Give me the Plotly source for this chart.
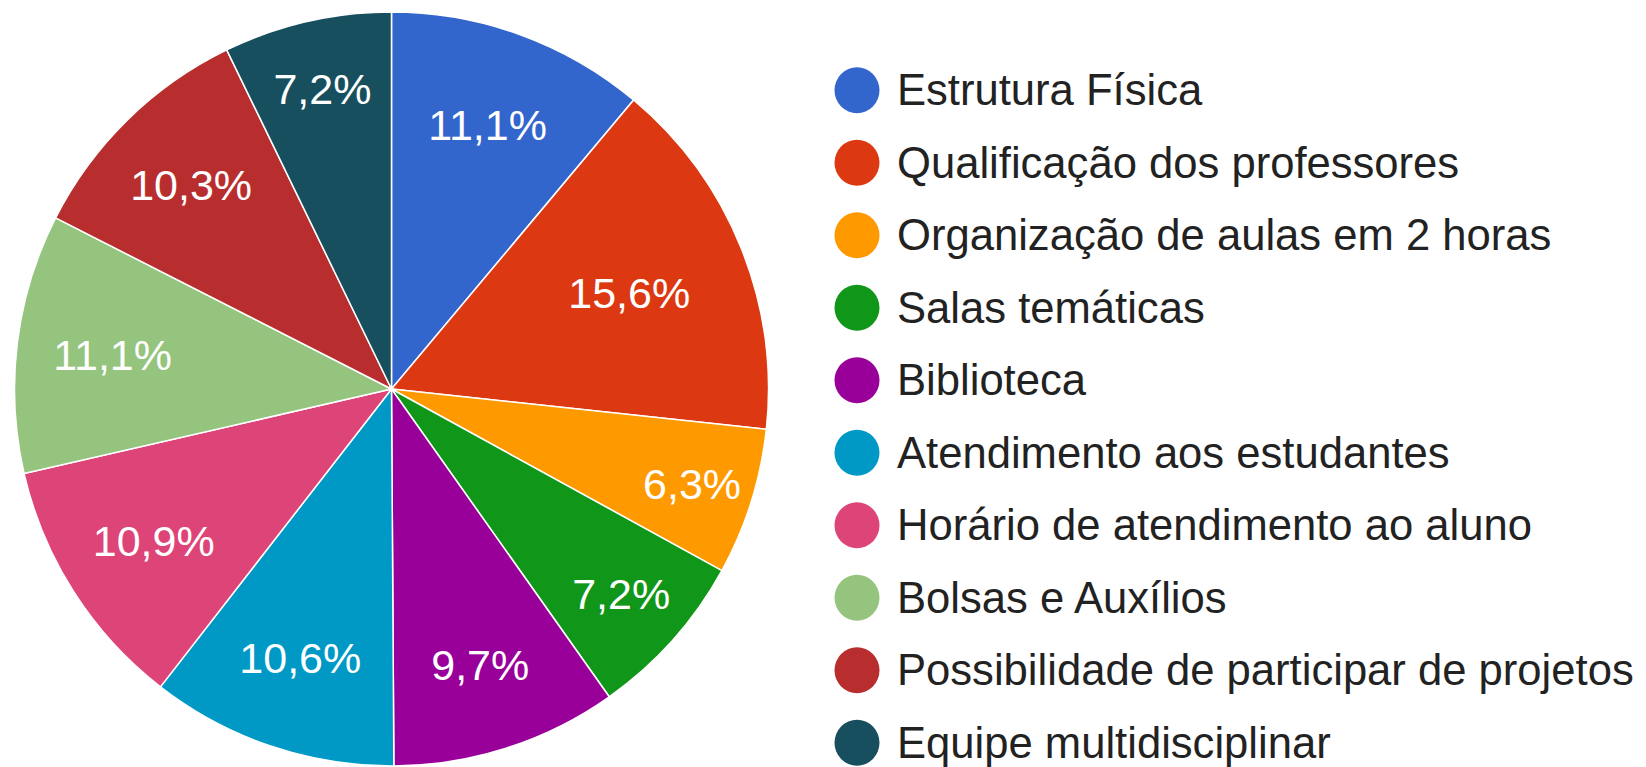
import plotly.graph_objects as go

categories = [
    "Estrutura Física",
    "Qualificação dos professores",
    "Organização de aulas em 2 horas",
    "Salas temáticas",
    "Biblioteca",
    "Atendimento aos estudantes",
    "Horário de atendimento ao aluno",
    "Bolsas e Auxílios",
    "Possibilidade de participar de projetos",
    "Equipe multidisciplinar",
]
values = [11.1, 15.6, 6.3, 7.2, 9.7, 10.6, 10.9, 11.1, 10.3, 7.2]
colors = ["#3366cc", "#dc3912", "#ff9900", "#109618", "#990099",
          "#0099c6", "#dd4477", "#95c47e", "#b82e2e", "#174f5e"]

# page body has an 8px margin, so the figure is drawn 8px smaller and offset
OFF = 8
W, H = 1646 - OFF, 767 - OFF
cx, cy, r = 391.5 - OFF, 389 - OFF, 377

fig = go.Figure()
fig.add_trace(go.Pie(
    labels=categories,
    values=values,
    sort=False,
    direction="clockwise",
    rotation=0,
    marker=dict(colors=colors, line=dict(color="white", width=1.5)),
    texttemplate="%{percent:.1%}",
    textposition="inside",
    insidetextorientation="horizontal",
    textfont=dict(size=43, color="white", family="Liberation Sans, Arial"),
    showlegend=False,
    hoverinfo="label+percent",
    domain=dict(x=[(cx - r) / W, (cx + r) / W],
                y=[(H - cy - r) / H, (H - cy + r) / H]),
))

shapes = []
annotations = []
for i, (name, col) in enumerate(zip(categories, colors)):
    yc = 1 - (90.3 - OFF + 72.5 * i) / H
    shapes.append(dict(
        type="circle", xref="paper", yref="paper",
        xsizemode="pixel", ysizemode="pixel",
        xanchor=(857 - OFF) / W, yanchor=yc,
        x0=-22.5, x1=22.5, y0=-23, y1=23,
        fillcolor=col, line=dict(width=0),
    ))
    annotations.append(dict(
        x=(895 - OFF) / W, y=yc, xref="paper", yref="paper",
        xanchor="left", yanchor="middle", showarrow=False,
        text=name, font=dict(size=43.6, color="#222222", family="Liberation Sans, Arial"),
    ))

fig.update_layout(
    width=W, height=H, autosize=False,
    margin=dict(l=0, r=0, t=0, b=0),
    paper_bgcolor="white", plot_bgcolor="white",
    separators=",.",
    shapes=shapes,
    annotations=annotations,
)

fig.write_html("out.html")
